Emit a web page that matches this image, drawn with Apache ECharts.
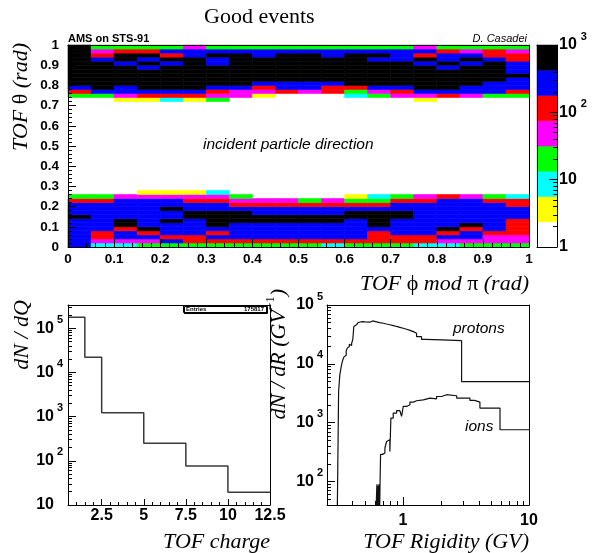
<!DOCTYPE html>
<html>
<head>
<meta charset="utf-8">
<script src="https://cdn.jsdelivr.net/npm/echarts@6.0.0/dist/echarts.min.js"></script>
<style>
html,body{margin:0;padding:0;background:#fff;}
#chart{width:599px;height:553px;}
</style>
</head>
<body>
<div id="chart"></div>
<script>
// ================= data =================
// top panel: TOF theta vs TOF phi mod pi, 20 x 50 bins, counts per bin
const phiBinWidth = 0.05;
const thetaBinWidth = 0.02;
const thetaLowFirstBin = 0;    // rows below: theta bins 0..13
const thetaLowCounts = [
  [300,9,9,20,20,20,20, 20,20,20,20,9,20,20, 20,9,9,20,20,20],
  [300,50,50,50,300,120,120, 120,120,120,120,120,120,120, 120,120,50,50,50,50],
  [300,120,300,300,120,120,300, 300,300,300,300,300,300,120, 120,120,300,300,50,50],
  [300,120,300,120,300,300,120, 300,300,300,300,300,300,120, 300,300,120,300,120,120],
  [300,300,120,700,300,300,300, 300,300,300,300,300,300,300, 300,300,700,120,300,120],
  [300,300,700,300,300,300,700, 300,300,300,300,300,300,700, 300,300,300,700,300,120],
  [300,300,700,300,700,300,700, 700,700,700,700,700,300,700, 300,300,300,300,300,120],
  [700,300,300,300,300,700,700, 700,700,700,700,700,700,700, 700,300,300,300,300,300],
  [300,300,300,300,300,700,700, 700,300,300,300,300,700,700, 700,300,300,300,300,300],
  [300,300,300,300,700,300,300, 300,300,300,300,300,300,300, 300,300,300,300,300,300],
  [300,300,300,300,300,300,300, 120,120,120,120,120,120,120, 300,300,300,300,300,120],
  [120,120,300,300,300,120,120, 50,50,50,20,50,20,20, 120,120,300,300,120,120],
  [20,20,50,50,50,50,50, 20,0,0,0,0,4,9, 20,50,120,50,20,9],
  [0,0,0,4,4,4,9, 0,0,0,0,0,0,0, 0,0,0,0,0,0]
];
const thetaHighFirstBin = 36;  // rows below: theta bins 36..49
const thetaHighCounts = [
  [0,0,4,4,9,4,20, 0,0,0,0,0,0,0, 0,4,0,0,0,0],
  [20,20,50,120,120,120,50, 50,4,0,0,0,9,20, 50,50,120,50,20,20],
  [120,300,300,300,300,300,120, 50,50,120,50,120,20,50, 120,300,300,300,300,120],
  [300,700,300,700,700,700,300, 300,120,300,300,120,120,300, 300,700,700,300,300,300],
  [700,700,700,700,700,700,700, 700,300,300,300,300,700,700, 700,700,700,700,300,300],
  [700,700,700,700,700,700,700, 700,700,700,700,700,700,700, 700,700,700,700,700,300],
  [700,700,700,700,700,700,700, 700,700,700,700,700,700,700, 700,700,700,700,700,700],
  [700,700,700,700,700,700,700, 700,700,700,700,700,700,700, 700,700,700,700,700,300],
  [700,700,700,300,700,700,700, 700,700,700,700,700,700,700, 700,700,300,700,700,300],
  [700,700,300,700,300,700,300, 700,700,700,700,700,700,700, 700,300,700,300,700,300],
  [700,300,700,300,700,700,300, 700,700,700,700,700,700,300, 300,700,300,700,300,120],
  [700,120,700,700,120,300,700, 700,300,700,700,300,700,700, 300,120,300,300,120,120],
  [700,50,120,120,300,300,300, 300,300,300,300,300,300,300, 300,300,120,50,120,50],
  [700,20,20,20,20,50,20, 20,20,20,20,20,20,20, 20,50,20,20,20,20]
];
const paletteEdges = [1, 2.37, 5.62, 13.3, 31.6, 75, 178, 422, 1000];
const zLabelValues = [1, 10, 100, 1000];
const phiLabelInterval = 0.1;
const thetaLabelInterval = 0.1;

// bottom-left: TOF charge
const chargeEdges = [0.5, 1.5, 2.5, 5, 7.5, 10, 12.5];
const chargeCounts = [177000, 22000, 1220, 249, 76, 19.4];
const chargeLabelValues = [2.5, 5, 7.5, 10, 12.5];
const dNdQLabelValues = [10, 100, 1000, 10000, 100000];
const entries = 175817;

// bottom-right: TOF rigidity (left bin edge, content)
const protonRigidity = [0.300,0.309,0.316,0.321,0.326,0.333,0.340,0.347,0.355,0.362,0.368,0.376,0.384,0.392,0.400,0.408,0.418,0.429,0.442,0.456,0.470,0.486,0.502,0.520,0.547,0.575,0.618,0.655,0.698,0.740,0.788,0.840,0.891,0.945,1.006,1.070,1.137,1.210,1.283,1.406,1.500,2.030,2.920,10];
const protonCounts   = [10,3400,6500,8000,9600,11500,13000,14000,16500,18500,19700,21500,20500,22400,25500,43000,46000,48900,50500,52000,49800,51500,53000,51000,53600,51800,50200,49000,47600,46200,44700,43200,41800,40300,38700,37000,35300,33000,29000,26000,25500,24800,5000,5000];
const ionRigidity = [0.600,0.622,0.628,0.633,0.640,0.645,0.652,0.658,0.665,0.690,0.720,0.742,0.765,0.788,0.803,0.838,0.891,0.946,0.976,1.006,1.070,1.137,1.210,1.283,1.450,1.640,1.850,2.030,2.220,2.670,3.400,3.700,4.080,5.890,10];
const ionCounts   = [10,90,20,85,20,90,20,80,290,306,372,480,515,325,1200,1460,1600,1730,1280,1890,2020,2240,2360,2450,2620,2550,2790,2990,2870,2620,2390,2240,1770,760,760];
const rigidityLabelValues = [1, 10];
const dNdRLabelValues = [100, 1000, 10000, 100000];

// ================= styles =================
const FONT = '"Liberation Sans", Arial, Helvetica, sans-serif';
const SERIF = '"Liberation Serif", "Times New Roman", Times, "DejaVu Serif", serif';
const BLACK = '#000';
const paletteColors = ['#ffffff','#ffff00','#00ffff','#00ff00','#ff00ff','#ff0000','#0000ff','#000000'];

// ================= derived structures =================
const heatCells = [];
function addRows(rows, first) {
  rows.forEach((row, r) => row.forEach((v, i) => {
    if (v > 0) heatCells.push([i * phiBinWidth, (first + r) * thetaBinWidth, v]);
  }));
}
addRows(thetaLowCounts, thetaLowFirstBin);
addRows(thetaHighCounts, thetaHighFirstBin);

const pieces = paletteColors.map((c, k) => {
  const p = {color: c};
  if (k > 0) p.gte = paletteEdges[k];
  if (k < paletteColors.length - 1) p.lt = paletteEdges[k + 1];
  return p;
});
const colorBand = paletteColors.map((c, k) => [0, paletteEdges[k], paletteEdges[k + 1], k]);

const chargeData = chargeEdges.map((e, i) => [e, chargeCounts[Math.min(i, chargeCounts.length - 1)]]);
const protonData = protonRigidity.map((r, i) => [r, protonCounts[i]]);
const ionData = ionRigidity.map((r, i) => [r, ionCounts[i]]);

function logMinor(lo, hi) {
  const out = [];
  for (let k = -2; k < 7; k++) for (let m = 2; m < 10; m++) {
    const v = m * Math.pow(10, k);
    if (v > lo * 1.0001 && v < hi * 0.9999) out.push(v);
  }
  return out;
}
function linearTicks(lo, hi, step) {
  const out = [];
  for (let v = lo; v <= hi + 1e-9; v += step) out.push(+v.toFixed(6));
  return out;
}

// "10^n" label; the exponent slot always exists so that the "10" parts line up
function powLabel(v) {
  const e = Math.round(Math.log10(v));
  if (e === 0) return '{b|1}';
  if (e === 1) return '{b|10}{e| }';
  return '{b|10}{e|' + e + '}';
}
function powLabelLeft(v) {
  const e = Math.round(Math.log10(v));
  if (e === 0) return '{b|1}';
  if (e === 1) return '{b|10}';
  return '{b|10}{e|' + e + '}';
}
const supRich = {
  b: {fontFamily: FONT, fontWeight: 'bold', fontSize: 16, lineHeight: 22, verticalAlign: 'bottom', color: BLACK},
  e: {fontFamily: FONT, fontWeight: 'bold', fontSize: 11, lineHeight: 11, verticalAlign: 'top', width: 9, align: 'right', color: BLACK}
};
const supRichLeft = {
  b: {fontFamily: FONT, fontWeight: 'bold', fontSize: 16, lineHeight: 22, verticalAlign: 'bottom', color: BLACK},
  e: {fontFamily: FONT, fontWeight: 'bold', fontSize: 11, lineHeight: 11, verticalAlign: 'top', padding: [0, 0, 0, 4], color: BLACK}
};
const nameRich = {
  i: {fontFamily: SERIF, fontStyle: 'italic', fontSize: 22, lineHeight: 26, verticalAlign: 'bottom', color: BLACK},
  g: {fontFamily: SERIF, fontStyle: 'normal', fontSize: 22, lineHeight: 26, verticalAlign: 'bottom', color: BLACK},
  s: {fontFamily: SERIF, fontStyle: 'normal', fontSize: 13, lineHeight: 13, verticalAlign: 'top', color: BLACK}
};

const noSplit = {show: false};
function lineAxis(grid, position) {
  return {gridIndex: grid, position, type: 'value', min: 0, max: 1,
    axisLine: {show: true, onZero: false, lineStyle: {color: BLACK, width: 1}},
    axisTick: {show: false}, axisLabel: {show: false}, splitLine: noSplit, minorTick: {show: false}, z: 10};
}
function tickOnlyAxis(grid, position, type, min, max, values, len) {
  return {gridIndex: grid, position, type, min, max,
    axisLine: {show: false, onZero: false},
    axisTick: {show: true, inside: true, length: len, customValues: values, lineStyle: {color: BLACK, width: 1}},
    axisLabel: {show: false}, splitLine: noSplit, minorTick: {show: false}, z: 10};
}

const chart = echarts.init(document.getElementById('chart'), null, {renderer: 'canvas'});
chart.setOption({
  animation: false,
  backgroundColor: '#fff',
  title: [
    {text: 'Good events', left: 204, top: 6, padding: 0,
      textStyle: {fontFamily: SERIF, fontSize: 22, fontWeight: 'normal', color: BLACK}},
    {text: 'AMS on STS-91', left: 68, top: 33, padding: 0,
      textStyle: {fontFamily: FONT, fontSize: 11, fontWeight: 'bold', color: BLACK}},
    {text: 'D. Casadei', right: 72, top: 33, padding: 0,
      textStyle: {fontFamily: FONT, fontSize: 11, fontStyle: 'italic', fontWeight: 'normal', color: BLACK}},
    {text: 'incident particle direction', left: 203, top: 137, padding: 0,
      textStyle: {fontFamily: FONT, fontSize: 15.5, fontStyle: 'italic', fontWeight: 'normal', color: BLACK}},
    {text: 'protons', left: 453, top: 321, padding: 0,
      textStyle: {fontFamily: FONT, fontSize: 15.5, fontStyle: 'italic', fontWeight: 'normal', color: BLACK}},
    {text: 'ions', left: 465, top: 419, padding: 0,
      textStyle: {fontFamily: FONT, fontSize: 15.5, fontStyle: 'italic', fontWeight: 'normal', color: BLACK}},
    {text: '{a|Entries}{b|' + entries + '}', left: 183, top: 305, padding: [1, 3, 0, 3],
      borderColor: BLACK, borderWidth: 1, backgroundColor: '#fff',
      shadowColor: BLACK, shadowOffsetX: 1, shadowOffsetY: 1, shadowBlur: 0,
      textStyle: {rich: {
        a: {fontFamily: FONT, fontSize: 6, lineHeight: 7, width: 40, align: 'left', color: BLACK},
        b: {fontFamily: FONT, fontSize: 6, lineHeight: 7, width: 38, align: 'right', color: BLACK}
      }}}
  ],
  grid: [
    {left: 68, top: 45, width: 461, height: 202, containLabel: false, outerBoundsMode: 'none'},
    {left: 68, top: 305, width: 202, height: 200, containLabel: false, outerBoundsMode: 'none'},
    {left: 327, top: 305, width: 202, height: 200, containLabel: false, outerBoundsMode: 'none'},
    {left: 537, top: 45, width: 20, height: 202, containLabel: false, outerBoundsMode: 'none'}
  ],
  visualMap: [{type: 'piecewise', show: false, seriesIndex: 0, dimension: 2, pieces: pieces}],
  xAxis: [
    // 0 heatmap phi
    {gridIndex: 0, position: 'bottom', type: 'value', min: 0, max: 1, interval: phiLabelInterval,
      axisLine: {show: true, onZero: false, lineStyle: {color: BLACK, width: 1}},
      axisTick: {show: true, inside: true, length: 8, lineStyle: {color: BLACK}},
      minorTick: {show: true, splitNumber: 5, length: 4, lineStyle: {color: BLACK}},
      splitLine: noSplit, minorSplitLine: noSplit,
      axisLabel: {fontFamily: FONT, fontWeight: 'bold', fontSize: 13.5, color: BLACK, margin: 5},
      name: '{i|TOF }{g|\u03D5}{i| mod }{g|\u03C0}{i| (rad)}', nameLocation: 'end', nameGap: 0, nameMoveOverlap: false,
      nameTextStyle: {align: 'right', verticalAlign: 'top', padding: [22, 0, 0, 0], rich: nameRich},
      z: 10},
    // 1 heatmap top frame
    lineAxis(0, 'top'),
    // 2 charge minor ticks
    {gridIndex: 1, position: 'bottom', type: 'value', min: 0.5, max: 12.5,
      axisLine: {show: true, onZero: false, lineStyle: {color: BLACK, width: 1}},
      axisTick: {show: true, inside: true, length: 3, customValues: linearTicks(0.5, 12.5, 0.5), lineStyle: {color: BLACK}},
      axisLabel: {show: false}, splitLine: noSplit, z: 10},
    // 3 charge major ticks + labels
    {gridIndex: 1, position: 'bottom', type: 'value', min: 0.5, max: 12.5,
      axisLine: {show: false, onZero: false},
      axisTick: {show: true, inside: true, length: 6, customValues: chargeLabelValues, lineStyle: {color: BLACK}},
      axisLabel: {customValues: chargeLabelValues, fontFamily: FONT, fontWeight: 'bold', fontSize: 16, color: BLACK, margin: 3},
      splitLine: noSplit,
      name: '{i|TOF charge}', nameLocation: 'end', nameGap: 0, nameMoveOverlap: false,
      nameTextStyle: {align: 'right', verticalAlign: 'top', padding: [22, 0, 0, 0], rich: nameRich},
      z: 10},
    // 4 charge top frame
    lineAxis(1, 'top'),
    // 5 rigidity major ticks + labels
    {gridIndex: 2, position: 'bottom', type: 'log', logBase: 10, min: 0.25, max: 10,
      axisLine: {show: true, onZero: false, lineStyle: {color: BLACK, width: 1}},
      axisTick: {show: true, inside: true, length: 8, customValues: rigidityLabelValues, lineStyle: {color: BLACK}},
      axisLabel: {customValues: rigidityLabelValues, fontFamily: FONT, fontWeight: 'bold', fontSize: 16, color: BLACK, margin: 8},
      splitLine: noSplit,
      name: '{i|TOF Rigidity (GV)}', nameLocation: 'end', nameGap: 0, nameMoveOverlap: false,
      nameTextStyle: {align: 'right', verticalAlign: 'top', padding: [22, 0, 0, 0], rich: nameRich},
      z: 10},
    // 6 rigidity minor ticks
    tickOnlyAxis(2, 'bottom', 'log', 0.25, 10, logMinor(0.25, 10), 4),
    // 7 rigidity top frame
    lineAxis(2, 'top'),
    // 8,9 colour bar frame
    lineAxis(3, 'bottom'),
    lineAxis(3, 'top')
  ],
  yAxis: [
    // 0 heatmap theta
    {gridIndex: 0, position: 'left', type: 'value', min: 0, max: 1, interval: thetaLabelInterval,
      axisLine: {show: true, onZero: false, lineStyle: {color: BLACK, width: 1}},
      axisTick: {show: true, inside: true, length: 8, lineStyle: {color: BLACK}},
      minorTick: {show: true, splitNumber: 5, length: 4, lineStyle: {color: BLACK}},
      splitLine: noSplit, minorSplitLine: noSplit,
      axisLabel: {fontFamily: FONT, fontWeight: 'bold', fontSize: 13.5, color: BLACK, margin: 9},
      name: '{i|TOF }{g|\u03B8}{i| (rad)}', nameLocation: 'end', nameGap: 2, nameRotate: 90, nameMoveOverlap: false,
      nameTextStyle: {align: 'right', verticalAlign: 'bottom', padding: [0, 0, 36, 0], rich: nameRich},
      z: 10},
    // 1 heatmap right frame
    lineAxis(0, 'right'),
    // 2 dN/dQ major
    {gridIndex: 1, position: 'left', type: 'log', logBase: 10, min: 10, max: 335000,
      axisLine: {show: true, onZero: false, lineStyle: {color: BLACK, width: 1}},
      axisTick: {show: true, inside: true, length: 8, customValues: dNdQLabelValues, lineStyle: {color: BLACK}},
      axisLabel: {customValues: dNdQLabelValues, formatter: powLabel, rich: supRich, padding: [0, 0, 6, 0], margin: 5},
      splitLine: noSplit,
      name: '{i|dN / dQ}', nameLocation: 'end', nameGap: 5, nameRotate: 90, nameMoveOverlap: false,
      nameTextStyle: {align: 'right', verticalAlign: 'bottom', padding: [0, 0, 35, 0], rich: nameRich},
      z: 10},
    // 3 dN/dQ minor
    tickOnlyAxis(1, 'left', 'log', 10, 335000, logMinor(10, 335000), 4),
    // 4 right frame
    lineAxis(1, 'right'),
    // 5 dN/dR major
    {gridIndex: 2, position: 'left', type: 'log', logBase: 10, min: 40, max: 100000,
      axisLine: {show: true, onZero: false, lineStyle: {color: BLACK, width: 1}},
      axisTick: {show: true, inside: true, length: 8, customValues: dNdRLabelValues, lineStyle: {color: BLACK}},
      axisLabel: {customValues: dNdRLabelValues, formatter: powLabel, rich: supRich, padding: [0, 0, 6, 0], margin: 4},
      splitLine: noSplit,
      name: '{i|dN / dR (GV}{s|\u22121}{i|)}', nameLocation: 'end', nameGap: 16, nameRotate: 90, nameMoveOverlap: false,
      nameTextStyle: {align: 'right', verticalAlign: 'bottom', padding: [0, 0, 37, 0], rich: nameRich},
      z: 10},
    // 6 dN/dR minor
    tickOnlyAxis(2, 'left', 'log', 40, 100000, logMinor(40, 100000), 4),
    // 7 right frame
    lineAxis(2, 'right'),
    // 8 colour bar left frame (log scale used by the bands)
    {gridIndex: 3, position: 'left', type: 'log', logBase: 10, min: 1, max: 1000,
      axisLine: {show: true, onZero: false, lineStyle: {color: BLACK, width: 1}},
      axisTick: {show: false}, axisLabel: {show: false}, splitLine: noSplit, z: 10},
    // 9 colour bar labels + major ticks
    {gridIndex: 3, position: 'right', type: 'log', logBase: 10, min: 1, max: 1000,
      axisLine: {show: true, onZero: false, lineStyle: {color: BLACK, width: 1}},
      axisTick: {show: true, inside: true, length: 8, customValues: zLabelValues, lineStyle: {color: BLACK}},
      axisLabel: {customValues: zLabelValues, formatter: powLabelLeft, rich: supRichLeft, padding: [0, 0, 6, 0], margin: 2},
      splitLine: noSplit, z: 10},
    // 10 colour bar minor ticks
    tickOnlyAxis(3, 'right', 'log', 1, 1000, logMinor(1, 1000), 4)
  ],
  series: [
    {type: 'custom', name: 'good events', coordinateSystem: 'cartesian2d', xAxisIndex: 0, yAxisIndex: 0,
      encode: {x: 0, y: 1}, data: heatCells, silent: true, z: 2,
      renderItem: function (params, api) {
        const x = api.value(0), y = api.value(1);
        const p = api.coord([x, y]);
        const q = api.coord([x + phiBinWidth, y + thetaBinWidth]);
        const c = api.visual('color');
        return {type: 'rect', shape: {x: p[0], y: q[1], width: q[0] - p[0], height: p[1] - q[1]},
          style: {fill: c, stroke: c, lineWidth: 0.6}};
      }},
    {type: 'custom', name: 'palette', coordinateSystem: 'cartesian2d', xAxisIndex: 8, yAxisIndex: 8,
      encode: {x: 0, y: 1}, data: colorBand, silent: true, z: 2,
      renderItem: function (params, api) {
        const lo = api.value(1), hi = api.value(2), k = api.value(3);
        const p = api.coord([0, lo]);
        const q = api.coord([1, hi]);
        return {type: 'rect', shape: {x: p[0], y: q[1], width: q[0] - p[0], height: p[1] - q[1]},
          style: {fill: paletteColors[k], stroke: paletteColors[k], lineWidth: 0.5}};
      }},
    {type: 'line', name: 'charge', xAxisIndex: 3, yAxisIndex: 2, step: 'end', symbol: 'none', clip: true,
      data: chargeData, lineStyle: {color: '#3a3a3a', width: 1.5}, silent: true},
    {type: 'line', name: 'protons', xAxisIndex: 5, yAxisIndex: 5, step: 'end', symbol: 'none', clip: true,
      data: protonData, lineStyle: {color: '#111', width: 1.2}, silent: true},
    {type: 'line', name: 'ions', xAxisIndex: 5, yAxisIndex: 5, step: 'end', symbol: 'none', clip: true,
      data: ionData, lineStyle: {color: '#111', width: 1.2}, silent: true}
  ]
});
</script>
</body>
</html>
